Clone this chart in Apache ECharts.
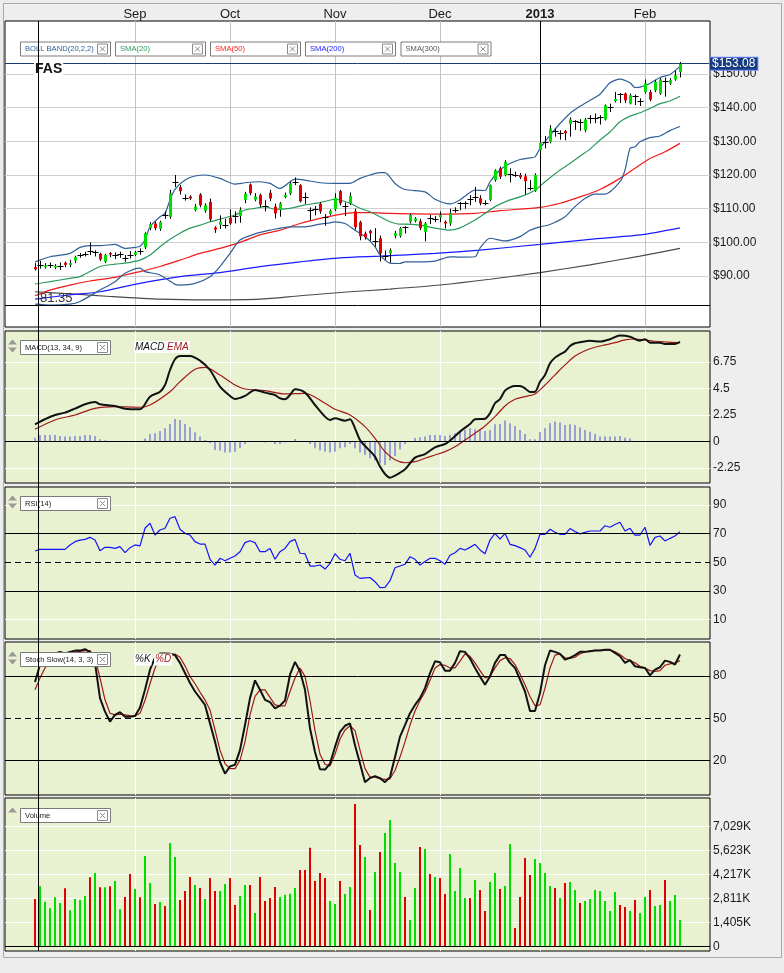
<!DOCTYPE html>
<html><head><meta charset="utf-8">
<script src="https://cdn.jsdelivr.net/npm/echarts@6/dist/echarts.min.js"></script>
<style>html,body{margin:0;padding:0;background:#ececec;}#c{width:784px;height:973px;}</style>
</head><body><div id="c"></div>
<script>
// ---------- categories ----------
const padBefore = ['2012-07-27','2012-07-30','2012-07-31','2012-08-01','2012-08-02','2012-08-03'];
const tradeDays = [
  ['2012-08',[6,7,8,9,10,13,14,15,16,17,20,21,22,23,24,27,28,29,30,31]],
  ['2012-09',[4,5,6,7,10,11,12,13,14,17,18,19,20,21,24,25,26,27,28]],
  ['2012-10',[1,2,3,4,5,8,9,10,11,12,15,16,17,18,19,22,23,24,25,26,31]],
  ['2012-11',[1,2,5,6,7,8,9,12,13,14,15,16,19,20,21,23,26,27,28,29,30]],
  ['2012-12',[3,4,5,6,7,10,11,12,13,14,17,18,19,20,21,24,26,27,28,31]],
  ['2013-01',[2,3,4,7,8,9,10,11,14,15,16,17,18,22,23,24,25,28,29,30,31]],
  ['2013-02',[1,4,5,6,7,8,11,12]]
];
const padAfter = ['2013-02-13','2013-02-14','2013-02-15','2013-02-19','2013-02-20','2013-02-21'];
const tickDates = ['2012-09-04','2012-10-01','2012-11-01','2012-12-03','2013-01-02','2013-02-01'];
const tickLabels = ['Sep','Oct','Nov','Dec','2013','Feb'];

// ---------- price candles [open, close, low, high] ----------
const candles = [
[92.6,92.0,91.6,93.8],[93.3,93.3,92.2,94.5],[92.6,93.1,92.2,93.8],[93.2,93.2,92.4,94.0],[92.5,93.0,92.0,93.5],
[93.0,93.0,91.8,94.0],[93.9,93.3,92.6,94.3],[93.2,93.8,92.6,94.8],[94.6,95.6,93.8,96.0],[96.2,96.2,95.4,96.8],
[96.6,96.6,95.8,97.2],[97.4,97.4,96.2,100.0],[97.0,97.0,95.8,97.6],[96.6,94.9,94.4,96.9],[94.2,96.2,93.8,96.6],
[96.8,96.4,95.5,97.1],[96.3,96.3,95.0,97.0],[96.5,96.5,95.4,97.2],[95.3,95.3,94.2,96.2],[96.3,96.3,95.2,97.4],
[96.3,97.0,95.9,97.4],[97.3,97.3,96.3,98.2],[98.5,102.7,98.0,103.0],[104.2,105.4,103.6,106.0],[105.6,104.2,103.6,106.2],
[104.0,106.0,103.4,106.4],[108.0,108.0,107.0,109.2],[107.6,114.5,107.0,115.6],[118.0,118.0,116.4,120.0],[116.4,115.2,114.2,117.0],
[113.2,113.2,112.4,114.2],[113.6,113.0,112.6,114.0],[109.6,110.6,109.2,111.4],[114.2,111.0,110.4,114.6],[109.4,111.0,108.8,111.6],
[112.0,106.8,106.2,113.0],[104.4,103.8,102.8,104.8],[105.2,106.2,104.0,108.0],[105.0,105.0,104.1,107.0],[107.3,105.6,105.2,109.8],
[107.8,107.8,105.6,109.2],[107.8,109.7,105.8,110.4],[112.6,114.4,111.6,115.0],[117.2,114.6,114.0,117.5],[112.7,113.6,112.2,114.6],
[114.1,111.2,110.4,114.5],[110.8,110.8,109.2,112.5],[114.7,113.0,112.2,115.6],[110.6,108.6,107.1,111.5],[109.6,111.6,107.6,112.0],
[113.4,114.0,113.1,114.8],[114.5,117.5,114.0,118.0],[118.0,118.0,117.0,119.3],[117.0,112.2,111.8,117.3],[113.6,113.6,111.4,114.8],
[109.6,109.6,106.6,110.4],[110.0,110.0,108.0,110.8],[111.4,109.2,108.5,112.0],[107.4,107.4,104.9,108.4],[108.4,109.4,108.0,109.8],
[109.8,113.2,109.3,114.6],[115.2,111.6,111.0,115.6],[110.8,110.8,107.8,111.8],[111.6,113.8,111.0,114.8],[109.2,104.5,103.8,110.0],
[106.0,101.8,100.6,106.4],[102.6,101.5,100.8,103.2],[103.4,102.7,100.5,103.7],[100.5,100.5,98.7,104.2],[101.2,96.7,94.3,102.0],
[95.9,95.9,94.8,97.6],[96.7,97.7,94.0,98.2],[101.9,102.7,101.2,103.4],[101.9,104.2,101.4,104.6],[104.6,104.6,102.6,104.8],
[106.1,108.1,105.6,108.5],[106.4,107.1,105.9,107.5],[106.3,104.2,103.6,107.0],[103.1,105.6,100.3,106.0],[107.1,107.1,105.4,108.1],
[106.9,106.9,106.0,107.8],[107.4,108.1,106.0,109.2],[106.1,105.6,104.1,106.5],[105.6,108.6,104.9,110.0],[109.6,109.6,108.8,110.4],
[111.6,111.6,109.5,112.0],[111.6,111.6,110.0,112.2],[112.8,112.8,111.0,114.0],[113.5,113.5,112.0,116.5],[113.1,111.6,111.0,114.0],
[111.8,111.8,111.0,112.5],[112.6,117.0,112.2,117.2],[118.5,121.4,118.0,121.7],[122.0,119.5,118.8,122.5],[120.0,123.9,119.6,124.4],
[120.3,120.3,117.8,122.0],[120.0,120.0,119.4,121.0],[120.0,119.3,118.8,120.6],[119.6,118.2,114.2,120.4],[116.0,116.0,115.4,118.5],
[115.3,120.0,115.0,120.5],[127.4,129.6,126.9,130.4],[129.9,129.9,127.9,131.6],[129.9,133.8,129.4,134.8],[133.1,133.1,131.4,133.8],
[132.5,132.5,130.5,133.3],[133.0,132.4,130.3,133.4],[135.1,136.5,131.4,137.1],[136.0,136.0,133.4,136.3],[135.8,135.8,133.1,136.6],
[133.3,136.5,132.7,137.0],[136.8,136.8,135.3,137.8],[137.0,137.0,135.4,138.3],[137.1,137.1,135.0,137.8],[136.5,140.7,136.2,141.0],
[140.2,140.2,138.7,141.2],[142.0,142.6,141.6,144.7],[144.0,144.0,141.4,144.4],[144.2,142.2,141.4,144.5],[141.2,143.7,141.0,144.2],
[143.4,143.4,140.8,143.9],[142.0,142.0,140.5,142.8],[144.7,147.2,144.2,148.4],[144.7,142.4,141.9,145.3],[145.2,147.7,144.6,148.3],
[144.2,148.4,143.8,148.8],[148.0,148.0,143.3,149.0],[147.2,148.2,146.8,148.8],[148.4,149.6,148.0,151.0],[150.6,153.08,149.0,153.6]
];
const lastPrice = 153.08;
const lowMark = 81.35;

// ---------- overlays [day index, value] ----------
const bbUpper = [[0,94.2],[3,95.7],[7,96.7],[9,98.5],[11,99.0],[13,99.0],[16,99.4],[18,98.2],[20,98.5],[21,98.8],[22,100.7],[23,104.6],[25,107.6],[26,108.6],[27,112.6],[28,115.7],[30,118.5],[32,119.7],[34,120.0],[37,119.0],[40,117.3],[42,117.7],[45,118.0],[47,117.5],[49,116.0],[51,118.0],[52,118.8],[54,118.5],[57,117.7],[60,117.5],[63,117.5],[65,119.0],[67,120.0],[69,120.7],[70,120.7],[72,117.5],[74,115.7],[78,115.0],[80,112.8],[83,111.4],[85,112.6],[88,115.5],[90,115.4],[91,118.0],[93,121.5],[95,123.4],[97,124.6],[99,125.1],[100,125.4],[101,127.9],[103,131.8],[105,135.3],[107,138.3],[109,140.4],[111,142.2],[113,144.0],[115,147.4],[117,148.5],[119,147.4],[120,146.0],[121,146.1],[123,147.2],[125,149.0],[127,149.9],[129,152.3]];
const bbLower = [[0,81.6],[3,81.35],[7,81.6],[9,82.4],[13,85.8],[16,88.3],[18,90.8],[21,92.3],[22,91.3],[25,90.3],[28,87.5],[29,87.3],[32,87.8],[35,89.8],[37,92.8],[39,96.7],[41,100.7],[44,102.5],[47,103.6],[51,104.6],[54,104.6],[57,105.4],[59,105.8],[60,106.1],[62,105.6],[64,103.6],[66,101.7],[68,98.7],[69,96.2],[71,93.8],[73,93.7],[74,94.2],[77,94.2],[80,94.4],[83,95.7],[85,95.6],[88,95.7],[89,98.3],[91,101.2],[94,100.4],[97,101.7],[99,103.6],[101,104.6],[103,105.3],[106,107.6],[108,110.6],[110,113.0],[112,114.3],[114,114.3],[117,118.0],[118,121.5],[119,127.9],[120,128.4],[121,129.9],[123,131.1],[125,131.6],[127,133.2],[129,134.4]];
const sma20 = [[0,87.6],[3,88.3],[7,89.3],[9,89.8],[11,91.3],[13,92.8],[16,93.5],[18,93.8],[21,94.7],[23,96.2],[25,98.7],[27,100.9],[29,102.7],[31,104.2],[33,105.1],[35,106.1],[37,106.9],[40,108.1],[42,109.6],[44,110.1],[46,110.6],[48,109.8],[51,110.1],[54,111.1],[57,111.8],[60,112.8],[63,111.6],[65,110.1],[67,109.1],[69,107.6],[71,106.1],[73,105.4],[74,105.4],[77,105.1],[80,104.2],[83,103.6],[85,104.3],[88,106.6],[90,108.6],[92,110.6],[95,112.6],[97,113.5],[100,115.5],[102,118.0],[105,121.5],[107,123.4],[109,125.6],[111,127.7],[113,130.4],[115,132.8],[117,135.8],[119,137.5],[121,138.5],[123,139.8],[125,141.2],[127,142.0],[129,143.4]];
const sma50 = [[0,84.1],[3,85.8],[7,87.3],[11,88.5],[16,89.6],[21,91.3],[25,92.8],[29,94.7],[33,96.7],[37,98.2],[41,100.0],[45,102.2],[49,103.6],[53,105.6],[57,107.1],[61,108.3],[64,108.8],[67,108.8],[71,108.6],[81,108.4],[88,108.6],[93,109.4],[101,110.4],[105,111.6],[109,113.5],[113,115.7],[117,119.0],[120,122.0],[123,124.9],[126,126.9],[129,129.4]];
const sma200 = [[0,83.1],[7,84.4],[13,85.3],[21,87.8],[29,89.8],[37,91.0],[45,92.8],[53,94.2],[61,95.4],[69,95.9],[73,96.2],[80,96.7],[89,97.7],[101,99.4],[111,100.9],[121,102.2],[129,104.3]];
const sma300 = [[0,85.3],[7,84.7],[15,83.9],[25,83.1],[35,82.9],[45,83.1],[53,84.1],[63,85.3],[71,86.1],[81,87.3],[91,89.0],[101,91.0],[111,93.3],[121,95.9],[129,98.2]];

// ---------- MACD ----------
const macdLine = [[0,1.44],[2,1.87],[4,2.23],[6,2.43],[8,2.77],[10,3.14],[12,3.34],[13,3.14],[16,3.0],[18,2.77],[21,2.72],[23,3.79],[25,4.21],[26,4.78],[27,6.05],[28,6.96],[29,7.24],[31,7.24],[33,6.84],[35,6.05],[37,4.64],[39,3.85],[40,3.59],[42,3.85],[44,4.36],[46,4.13],[48,3.93],[49,3.65],[50,3.57],[51,3.93],[52,4.41],[54,4.13],[56,3.08],[58,2.09],[59,1.81],[60,1.95],[62,1.75],[63,1.87],[64,1.10],[65,0.11],[66,-0.40],[67,-0.82],[68,-1.30],[69,-2.15],[70,-2.78],[71,-3.09],[72,-2.92],[74,-2.38],[76,-1.39],[78,-1.08],[80,-0.51],[82,-0.23],[83,0.05],[85,0.82],[87,1.47],[88,1.87],[90,1.92],[91,2.38],[92,3.23],[93,3.57],[94,4.30],[95,4.58],[96,4.69],[97,4.69],[98,4.50],[99,4.19],[100,4.21],[101,5.06],[102,5.63],[103,6.62],[104,7.10],[105,7.38],[106,7.61],[107,8.09],[108,8.32],[109,8.40],[111,8.54],[113,8.46],[115,8.66],[117,8.97],[119,8.88],[121,8.54],[122,8.66],[123,8.37],[125,8.37],[126,8.26],[128,8.26],[129,8.43]];
const macdSignal = [[0,1.02],[4,1.81],[8,2.23],[12,2.80],[16,2.94],[21,2.89],[23,3.08],[27,4.21],[29,5.06],[32,6.11],[34,6.28],[37,5.63],[40,4.78],[42,4.44],[46,4.30],[50,4.02],[54,4.07],[58,3.23],[60,2.72],[63,2.23],[66,1.24],[68,0.25],[70,-0.88],[72,-1.57],[74,-1.82],[76,-1.73],[78,-1.44],[80,-1.16],[82,-0.88],[84,-0.46],[86,0.11],[88,0.68],[90,1.30],[92,2.09],[94,3.00],[96,3.57],[98,3.79],[100,4.02],[102,4.78],[104,5.63],[106,6.48],[108,7.24],[110,7.69],[112,7.98],[114,8.18],[116,8.37],[118,8.60],[120,8.68],[122,8.60],[124,8.49],[126,8.43],[129,8.37]];
const macdHist = [0.31,0.51,0.54,0.54,0.54,0.45,0.40,0.40,0.45,0.45,0.54,0.54,0.45,0.17,0.08,0.02,0,0,-0.02,-0.02,
0,0.02,0.23,0.62,0.68,0.88,1.10,1.47,1.90,1.81,1.47,1.19,0.76,0.40,0.11,-0.17,-0.74,-0.79,-0.96,-0.96,
-0.88,-0.59,-0.23,-0.03,0.02,-0.02,-0.11,-0.05,-0.23,-0.23,-0.11,0,0.2,0.03,0,-0.23,-0.59,-0.79,-0.88,-0.96,
-0.88,-0.59,-0.51,-0.23,-0.59,-0.96,-1.16,-1.44,-1.64,-1.87,-2.01,-1.64,-1.25,-0.68,-0.23,0,0.28,0.34,0.40,0.54,
0.54,0.54,0.45,0.54,0.68,0.88,0.96,1.10,1.02,0.96,0.88,0.96,1.44,1.47,1.76,1.53,1.30,0.96,0.62,0.17,
0.17,0.79,1.10,1.53,1.67,1.59,1.39,1.44,1.39,1.16,0.96,0.82,0.62,0.40,0.40,0.40,0.40,0.45,0.31,0.23,
0,0,0,-0.03,0,0,0,0,0,0];

// ---------- RSI(14) ----------
const rsi = [57.9,59.0,59.0,59.0,59.0,59.0,59.0,62.0,64.4,65.5,66.0,67.4,65.5,58.1,60.4,60.4,59.7,60.9,56.7,60.2,
62.1,61.4,73.7,77.2,69.0,72.5,73.7,80.7,81.8,73.0,70.2,69.0,64.4,62.7,62.7,52.1,48.1,52.8,51.1,52.8,
54.4,57.4,63.7,65.0,63.7,57.4,57.4,59.7,52.1,57.4,59.7,64.4,66.0,56.3,56.0,47.4,47.4,48.1,45.3,49.2,
56.0,52.1,51.1,56.3,41.2,38.8,39.2,39.4,36.5,32.3,32.5,37.2,46.2,47.4,48.6,53.9,52.1,48.1,50.5,52.8,
52.8,51.1,48.6,54.9,56.7,59.7,58.6,60.4,62.5,58.6,56.0,65.5,70.2,66.2,70.2,62.5,61.6,60.2,58.6,53.5,
59.7,69.5,69.5,73.0,70.9,69.5,69.5,73.5,71.4,69.8,70.9,71.8,71.8,71.8,75.5,74.4,76.3,77.9,71.8,73.7,
69.0,69.0,74.4,61.8,67.4,68.3,64.9,66.7,68.3,71.4];

// ---------- Stoch Slow(14,3,3) ----------
const stochK = [75.7,88,93,95,96,97,96,97,98,98,99,97,89.3,64.3,54.7,47.6,52.4,54.3,51.1,51.1,
51.6,57.6,70.2,84.5,93,96,96,95.7,94.8,89.3,82.1,75,69,64.3,59.5,46.4,33.3,19.0,10.7,15.9,
17.1,27.4,45.2,64.3,76.9,70.2,63.1,61.4,57.1,59.0,62.6,80.9,90,83.3,70.2,42.9,26.1,13.8,13.6,17.9,
29.7,40.4,44.7,46.4,30.9,17.9,4.7,7.6,9.0,7.6,4.7,8.3,22.5,37,45.2,53.6,59.5,64.3,71.4,82.1,
90.4,89.8,83.8,83.8,89.3,97.6,97.1,92.4,85.7,79.7,73.8,79.7,89.3,94.8,94.8,89.3,85.7,77.4,69,55.2,
55.2,67.9,87.6,98.1,97.1,95.7,91.6,92.9,94.8,97.1,97.1,97.6,98.1,98.1,98.6,98.6,96.4,94.0,89.3,91.2,
86.9,86.2,85.7,80.4,84.5,86.2,90.9,90,88.1,95.2];
const stochD = [70.2,78.6,85.7,90,93,95,96,96.5,97,97.5,98,98,92.9,78.6,63.1,53.6,52.4,52.9,52.4,51.9,
51.6,53.6,62.6,74.5,85.7,92.9,95,95.5,95.5,93.3,87.2,79.7,74.5,68.6,63.1,55.9,41.7,27.4,17.9,14.3,
14.3,20.2,33.3,52.4,65.5,70.2,70.2,64.8,59.5,58.8,58.8,69,78.6,85.7,79.7,62.6,41.2,24.5,17.4,16.2,
24.5,35.3,41.7,44.7,41.2,27.4,14.3,8.3,8.3,7.1,6.7,7.1,13,22.5,33.3,45.2,55.2,62.6,68.6,76.9,
85.7,88.1,87.6,85.7,85.7,90.5,95.7,94.0,89.3,83.8,78.6,79.7,85.7,90.9,92.9,92.4,88.1,81.4,73.8,65.5,
59.0,59.5,71.4,85.7,94.8,95.7,92.9,92.4,93.3,95.7,97.1,97.6,98.1,98.1,98.3,98.3,97.1,95.2,92.4,90.9,
89.3,86.9,85.7,83.8,83.3,83.8,87.6,88.6,89.3,90.9];

// ---------- Volume (thousands) and direction (1 up / -1 down) ----------
const volume = [2772,3534,2615,2226,2871,2537,3398,2108,2772,2713,2948,4043,4295,3457,3457,3515,3827,2168,2889,4237,
3358,2871,5292,3709,2479,2596,2362,6053,5233,2713,3241,4061,3592,3416,2772,4002,3241,3241,3651,4002,
2420,2948,3592,3592,1951,4061,2655,2830,3475,2889,3024,3083,3416,4471,4471,5778,3827,4295,4002,2655,
2479,3827,3065,3475,8339,5936,5233,2127,4354,5526,6639,7401,4881,4354,2889,1541,3416,5819,5702,4237,
4061,4002,3065,5409,3241,4588,2830,2830,3885,3299,2069,3768,4295,3358,3534,5995,1072,2889,5174,4178,
5116,4881,4295,3534,3416,2830,3709,3768,3299,2537,2655,2772,3299,3241,2655,2069,3182,2420,2303,2069,
2713,1951,2889,3299,2361,2420,3885,2655,3006,1541];
const volDir = [-1,1,1,1,1,1,-1,1,1,1,1,-1,1,-1,1,-1,1,1,-1,-1,
1,-1,1,1,-1,1,-1,1,1,-1,-1,-1,1,-1,1,-1,-1,1,1,-1,
-1,1,1,-1,1,-1,-1,-1,-1,1,1,1,1,-1,-1,-1,-1,-1,-1,1,
1,-1,1,1,-1,-1,1,-1,1,-1,1,1,1,1,-1,1,1,-1,1,-1,
1,-1,-1,1,1,1,1,-1,1,-1,-1,1,1,-1,1,1,-1,-1,-1,-1,
1,1,1,1,-1,1,-1,1,1,-1,1,1,1,1,1,1,1,-1,-1,1,
-1,1,1,-1,1,1,-1,1,1,1];

// ---------- axis tick values ----------
const priceTicks = [90,100,110,120,130,140,150];
const macdTicks = [-2.25,0,2.25,4.5,6.75];
const rsiTicks = [10,30,50,70,90];
const stochTicks = [20,50,80];
const volTicks = [0,1405.8,2811.6,4217.4,5623.2,7029];

// ---------- build ----------
const dates = [];
tradeDays.forEach(([m, ds]) => ds.forEach(d => dates.push(m + '-' + (d < 10 ? '0' + d : d))));
const cats = padBefore.concat(dates, padAfter);
const tickSet = new Set(tickDates);
const pairs = arr => arr.map(([i, v]) => [dates[i], v]);
const full = arr => arr.map((v, i) => [dates[i], v]);

const FONT = 'Arial, "Liberation Sans", Helvetica, sans-serif';
const PANEL_BG = '#e9f2d0';
const GREEN = '#00dd00', RED = '#e00000';
const gridDefs = [
  {top: 21, height: 306, bg: '#ffffff'},
  {top: 331, height: 152, bg: PANEL_BG},
  {top: 487, height: 152, bg: PANEL_BG},
  {top: 642, height: 153, bg: PANEL_BG},
  {top: 798, height: 153, bg: PANEL_BG}
];
const yRanges = [[74.83, 165.77], [-3.54, 9.36], [-3.45, 102.47], [-4.4, 104.1], [-275, 8687]];
const yTicks = [priceTicks, macdTicks, rsiTicks, stochTicks, volTicks];
const yFmt = [
  v => '$' + v.toFixed(2),
  v => String(v),
  v => String(v),
  v => String(v),
  v => v === 0 ? '0' : Math.floor(v).toLocaleString('en-US') + 'K'
];

const chart = echarts.init(document.getElementById('c'), null, {renderer: 'canvas'});

const grid = gridDefs.map(g => ({left: 5, right: 74, top: g.top, height: g.height, show: true,
  backgroundColor: g.bg, borderColor: '#000', borderWidth: 1, containLabel: false}));

const xAxis = gridDefs.map((g, k) => ({
  type: 'category', gridIndex: k, data: cats, boundaryGap: false,
  position: 'top',
  axisLine: {show: false}, axisTick: {show: false},
  axisLabel: k === 0 ? {
    show: true, interval: (i, v) => tickSet.has(v), margin: 0,
    color: '#1a1a1a', fontSize: 13, fontFamily: FONT,
    formatter: v => { const t = tickLabels[tickDates.indexOf(v)] || ''; return t === '2013' ? '{b|2013}' : t; },
    rich: {b: {fontWeight: 'bold', fontSize: 13, fontFamily: FONT, color: '#1a1a1a'}}
  } : {show: false},
  splitLine: {show: true, interval: (i, v) => tickSet.has(v),
    lineStyle: {color: k === 0 ? '#c4c4c4' : '#ffffff', width: 1}}
}));

const yAxis = gridDefs.map((g, k) => ({
  type: 'value', gridIndex: k, position: 'right', min: yRanges[k][0], max: yRanges[k][1],
  axisLine: {show: false},
  axisTick: {show: false, customValues: yTicks[k]},
  axisLabel: {show: true, customValues: yTicks[k], formatter: yFmt[k], color: '#1a1a1a', fontSize: 12, fontFamily: FONT, margin: 3},
  splitLine: {show: true, lineStyle: {color: k === 0 ? '#cfcfcf' : '#ffffff', width: 1}}
}));

const hLine = (v, color, dashed) => ({yAxis: v, lineStyle: {color, width: 1, type: dashed ? [6, 4] : 'solid'}});
const mlBase = {silent: true, symbol: ['none', 'none'], animation: false, label: {show: false}};
const lineS = (name, data, xi, color, width, extra) => Object.assign({
  name, type: 'line', xAxisIndex: xi, yAxisIndex: xi, data, showSymbol: false, symbol: 'none',
  smooth: 0.25, lineStyle: {color, width}, animation: false, z: 2
}, extra || {});

const series = [
  lineS('SMA(300)', pairs(sma300), 0, '#4a4a4a', 1.1, {
    markLine: Object.assign({}, mlBase, {data: [
      {xAxis: '2013-01-02', lineStyle: {color: '#000', width: 1, type: 'solid'}},
      hLine(lowMark, '#000'),
      {yAxis: lastPrice, lineStyle: {color: '#1a3a70', width: 1, type: 'solid'},
       label: {show: true, position: 'end', distance: 0, formatter: '$153.08', color: '#fff',
         backgroundColor: '#173c80', borderColor: '#6f86ff', borderWidth: 1, padding: [0, 2, 0, 2],
         lineHeight: 12, fontSize: 12, fontFamily: FONT}}
    ]})
  }),
  lineS('SMA(200)', pairs(sma200), 0, '#1a1aff', 1.2),
  lineS('SMA(50)', pairs(sma50), 0, '#f01a1a', 1.2),
  lineS('SMA(20)', pairs(sma20), 0, '#2a9a5a', 1.2),
  lineS('BB upper', pairs(bbUpper), 0, '#2f5f98', 1.2),
  lineS('BB lower', pairs(bbLower), 0, '#2f5f98', 1.2),
  {
    name: 'FAS', type: 'custom', xAxisIndex: 0, yAxisIndex: 0, z: 5, animation: false,
    data: candles.map((r, i) => [dates[i], r[0], r[1], r[2], r[3]]),
    encode: {x: 0, y: [1, 2, 3, 4]},
    renderItem: (params, api) => {
      const x = api.value(0), o = api.value(1), c = api.value(2), l = api.value(3), h = api.value(4);
      const po = api.coord([x, o]), pc = api.coord([x, c]), pl = api.coord([x, l]), ph = api.coord([x, h]);
      const cx = Math.round(po[0]) + 0.5;
      const kids = [{type: 'line', shape: {x1: cx, y1: ph[1], x2: cx, y2: pl[1]}, style: {stroke: '#000', lineWidth: 1}}];
      if (o === c) {
        const yy = Math.round(pc[1]) + 0.5;
        kids.push({type: 'line', shape: {x1: cx - 3, y1: yy, x2: cx + 3, y2: yy}, style: {stroke: '#000', lineWidth: 1}});
      } else {
        const top = Math.min(po[1], pc[1]);
        const hh = Math.max(1.5, Math.abs(po[1] - pc[1]));
        kids.push({type: 'rect', shape: {x: cx - 1.5, y: top, width: 3, height: hh}, style: {fill: c > o ? GREEN : RED}});
      }
      return {type: 'group', children: kids};
    }
  },
  {
    name: 'MACD hist', type: 'bar', xAxisIndex: 1, yAxisIndex: 1, data: full(macdHist), barWidth: 1,
    itemStyle: {color: '#4b4bd6'}, animation: false,
    markLine: Object.assign({}, mlBase, {data: [hLine(0, '#000')]})
  },
  lineS('EMA', pairs(macdSignal), 1, '#a01818', 1.2, {smooth: 0.3}),
  lineS('MACD', pairs(macdLine), 1, '#111', 2, {smooth: 0.3, z: 3}),
  lineS('RSI(14)', full(rsi), 2, '#1414ff', 1.2, {smooth: false,
    markLine: Object.assign({}, mlBase, {data: [hLine(70, '#000'), hLine(30, '#000'), hLine(50, '#000', true)]})}),
  lineS('%D', full(stochD), 3, '#a01818', 1.2, {smooth: false,
    markLine: Object.assign({}, mlBase, {data: [hLine(80, '#000'), hLine(20, '#000'), hLine(50, '#000', true)]})}),
  lineS('%K', full(stochK), 3, '#111', 2, {smooth: false, z: 3}),
  {
    name: 'Volume', type: 'bar', xAxisIndex: 4, yAxisIndex: 4, barWidth: 2, animation: false,
    data: volume.map((v, i) => ({value: [dates[i], v], itemStyle: {color: volDir[i] > 0 ? GREEN : RED}})),
    markLine: Object.assign({}, mlBase, {data: [hLine(0, '#000')]})
  }
];

chart.setOption({animation: false, grid, xAxis, yAxis, series});

// ---------- decorations ----------
function closeIcon(x, y) {
  return [
    {type: 'rect', shape: {x: x + 0.5, y: y + 0.5, width: 10, height: 10}, style: {fill: '#fff', stroke: '#8a8a8a', lineWidth: 1}},
    {type: 'line', shape: {x1: x + 3, y1: y + 3, x2: x + 8, y2: y + 8}, style: {stroke: '#8a8a8a', lineWidth: 1}},
    {type: 'line', shape: {x1: x + 8, y1: y + 3, x2: x + 3, y2: y + 8}, style: {stroke: '#8a8a8a', lineWidth: 1}}
  ];
}
function labelBox(x, y, text, color) {
  return [
    {type: 'rect', shape: {x: x + 0.5, y: y + 0.5, width: 90, height: 14}, style: {fill: '#fff', stroke: '#7a7a7a', lineWidth: 1}},
    {type: 'text', x: x + 5, y: y + 7.5, style: {text, fill: color, font: '7.6px ' + FONT,
      align: 'left', verticalAlign: 'middle', textAlign: 'left', textVerticalAlign: 'middle'}}
  ].concat(closeIcon(x + 77, y + 2));
}
function arrows(y, both) {
  const els = [{type: 'polygon', shape: {points: [[8, y + 5], [12.5, y], [17, y + 5]]}, style: {fill: '#9a9a9a'}}];
  if (both) els.push({type: 'polygon', shape: {points: [[8, y + 8], [17, y + 8], [12.5, y + 13]]}, style: {fill: '#9a9a9a'}});
  return els;
}
function txt(x, y, text, color, font, bg) {
  return {type: 'text', x, y, style: {text, fill: color, font, backgroundColor: bg, padding: bg ? [1, 1, 1, 1] : 0,
    align: 'left', verticalAlign: 'middle', textAlign: 'left', textVerticalAlign: 'middle'}};
}

const legendItems = [['BOLL BAND(20,2,2)', '#2f5f98'], ['SMA(20)', '#2a9a5a'], ['SMA(50)', '#ff2020'], ['SMA(200)', '#2020ff'], ['SMA(300)', '#555555']];
let g = [];
legendItems.forEach(([t, c], k) => { g = g.concat(labelBox(20 + 95 * k + (k === 4 ? 0.5 : 0), 41.5, t, c)); });
g = g.concat(arrows(339.5, true), labelBox(20, 340, 'MACD(13, 34, 9)', '#222'));
g.push(txt(134, 347, 'MACD', '#111', 'italic 10px ' + FONT, '#ffffff'));
g.push(txt(166, 347, 'EMA', '#a01818', 'italic 10px ' + FONT, '#ffffff'));
g = g.concat(arrows(495.5, true), labelBox(20, 496, 'RSI(14)', '#222'));
g = g.concat(arrows(651.5, true), labelBox(20, 652, 'Stoch Slow(14, 3, 3)', '#222'));
g.push(txt(134, 659.5, '%K', '#111', 'italic 10px ' + FONT, '#ffffff'));
g.push(txt(154, 659.5, '%D', '#a01818', 'italic 10px ' + FONT, '#ffffff'));
g = g.concat(arrows(807.5, false), labelBox(20, 808, 'Volume', '#222'));
g.push(txt(34, 69.5, 'FAS', '#111', 'bold 14px ' + FONT, '#ffffff'));

const x0 = chart.convertToPixel({xAxisIndex: 0}, dates[0]);
const x1 = chart.convertToPixel({xAxisIndex: 0}, dates[1]);
const crossX = Math.round(x0 + (x1 - x0) * 0.66) + 0.5;
const yTop = chart.convertToPixel({yAxisIndex: 0}, yRanges[0][1]);
const yBot = chart.convertToPixel({yAxisIndex: 4}, yRanges[4][0]);
const yLow = chart.convertToPixel({yAxisIndex: 0}, lowMark);
g.push({type: 'line', shape: {x1: crossX, y1: yTop, x2: crossX, y2: yBot}, style: {stroke: '#000', lineWidth: 1}});
g.push(txt(crossX + 1.5, yLow - 7, '81.35', '#333', '13px ' + FONT));

g.forEach(e => { e.z = 100; e.silent = true; });
g.unshift({type: 'rect', z: -10, silent: true, shape: {x: 3.5, y: 3.5, width: 778, height: 954},
  style: {fill: '#eeeeee', stroke: '#a8a8a8', lineWidth: 1}});
chart.setOption({graphic: g});
</script>
</body></html>
